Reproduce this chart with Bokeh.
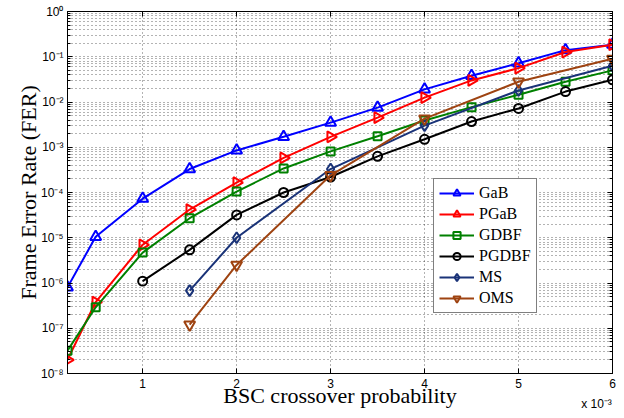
from bokeh.plotting import figure
from bokeh.models import (FixedTicker, LinearAxis, LogAxis, Legend, LegendItem,
                          CustomJSTickFormatter, Range1d, ColumnDataSource)
from bokeh.embed import file_html
from bokeh.resources import INLINE
import math

# BSC crossover probability (in units of 1e-3)
p_full = [0.2, 0.5, 1.0, 1.5, 2.0, 2.5, 3.0, 3.5, 4.0, 4.5, 5.0, 5.5, 6.0]
p_pgdbf = [1.0, 1.5, 2.0, 2.5, 3.0, 3.5, 4.0, 4.5, 5.0, 5.5, 6.0]
p_ms = [1.5, 2.0, 3.0, 4.0, 5.0, 6.0]

# Frame error rates
fer_gab = [8.0e-7, 1.05e-5, 7.3e-5, 3.3e-4, 8.5e-4, 1.7e-3, 3.5e-3, 7.5e-3, 1.9e-2, 3.8e-2, 7.2e-2, 1.4e-1, 1.85e-1]
fer_pgab = [2.0e-8, 3.8e-7, 7.0e-6, 4.2e-5, 1.65e-4, 5.8e-4, 1.7e-3, 4.5e-3, 1.25e-2, 3.0e-2, 5.6e-2, 1.27e-1, 1.85e-1]
fer_gdbf = [3.2e-8, 2.9e-7, 4.7e-6, 2.7e-5, 1.05e-4, 3.4e-4, 8.1e-4, 1.75e-3, 3.9e-3, 7.7e-3, 1.45e-2, 2.8e-2, 5.0e-2]
fer_pgdbf = [1.1e-6, 5.4e-6, 3.2e-5, 1.0e-4, 2.2e-4, 6.3e-4, 1.5e-3, 3.7e-3, 7.2e-3, 1.7e-2, 3.1e-2]
fer_ms = [6.8e-7, 1.0e-5, 3.3e-4, 3.0e-3, 1.8e-2, 6.3e-2]
fer_oms = [1.2e-7, 2.5e-6, 2.4e-4, 4.3e-3, 2.8e-2, 9.0e-2]

x_ticks = [1, 2, 3, 4, 5, 6]
y_major = [10.0 ** -k for k in range(0, 9)]
y_minor = [m * 10.0 ** -k for k in range(1, 9) for m in range(2, 10)]
x_scale_text = "x 10\u207b\u00b3"
x_scale_pos = 5.83

SANS = "Liberation Sans"
SERIF = "Liberation Serif"

p = figure(width=624, height=418, y_axis_type="log",
           x_range=Range1d(0.2, 6.0), y_range=Range1d(1e-8, 1.0),
           output_backend="svg", toolbar_location=None,
           min_border_left=67, min_border_right=12,
           min_border_top=11, min_border_bottom=45)
p.outline_line_color = "black"
p.background_fill_color = "white"
p.border_fill_color = "white"

sup_formatter = CustomJSTickFormatter(code="""
const sup = {"-": "\u207b", "0": "\u2070", "1": "\u00b9", "2": "\u00b2", "3": "\u00b3",
             "4": "\u2074", "5": "\u2075", "6": "\u2076", "7": "\u2077", "8": "\u2078", "9": "\u2079"};
const e = Math.round(Math.log10(tick));
return "10" + String(e).split("").map(c => sup[c]).join("");
""")
blank = CustomJSTickFormatter(code="return '';")

xt = FixedTicker(ticks=x_ticks)
yt = FixedTicker(ticks=y_major, minor_ticks=y_minor)

def style_axis(ax):
    ax.axis_line_color = "black"
    ax.major_tick_line_color = "black"
    ax.minor_tick_line_color = "black"
    ax.major_tick_in = 5
    ax.major_tick_out = 0
    ax.minor_tick_in = 3
    ax.minor_tick_out = 0
    ax.major_label_text_font = SANS
    ax.major_label_text_font_size = "12px"
    ax.major_label_text_color = "black"
    ax.axis_label_text_color = "black"

xa = p.xaxis[0]
xa.ticker = xt
style_axis(xa)
xa.minor_tick_line_color = None
xa.major_label_standoff = 5
xa.axis_label = "BSC crossover probability"
xa.axis_label_text_font = SERIF
xa.axis_label_text_font_size = "22px"
xa.axis_label_text_font_style = "normal"
xa.axis_label_standoff = -8

# second row under the x axis carrying the scale factor of the ticks
scale_axis = LinearAxis(ticker=FixedTicker(ticks=[x_scale_pos]),
                        formatter=CustomJSTickFormatter(code="return '%s';" % x_scale_text))
scale_axis.axis_line_color = None
scale_axis.major_tick_line_color = None
scale_axis.minor_tick_line_color = None
scale_axis.major_label_text_font = SANS
scale_axis.major_label_text_font_size = "12px"
scale_axis.major_label_text_color = "black"
scale_axis.major_label_standoff = -20
p.add_layout(scale_axis, "below")

ya = p.yaxis[0]
ya.ticker = yt
ya.formatter = sup_formatter
style_axis(ya)
ya.major_label_standoff = 4
ya.axis_label = "Frame Error Rate (FER)"
ya.axis_label_text_font = SERIF
ya.axis_label_text_font_size = "22px"
ya.axis_label_text_font_style = "normal"
ya.axis_label_standoff = -3

top = LinearAxis(ticker=xt, formatter=blank)
style_axis(top)
top.minor_tick_line_color = None
top.major_label_standoff = 0
p.add_layout(top, "above")

right = LogAxis(ticker=yt, formatter=blank)
style_axis(right)
right.major_label_standoff = 0
p.add_layout(right, "right")

# dotted grid
for g in (p.xgrid[0], p.ygrid[0]):
    g.grid_line_color = "#000000"
    g.grid_line_dash = "1 3"
    g.grid_line_width = 1
    g.grid_line_alpha = 0.6
p.ygrid[0].minor_grid_line_color = "#000000"
p.ygrid[0].minor_grid_line_dash = "1 3"
p.ygrid[0].minor_grid_line_alpha = 0.6

series = [
    ("GaB", p_full, fer_gab, "#0000ff", "triangle", 0.0, 11),
    ("PGaB", p_full, fer_pgab, "#ff0000", "triangle", -math.pi / 2, 11),
    ("GDBF", p_full, fer_gdbf, "#008000", "square", 0.0, 8),
    ("PGDBF", p_pgdbf, fer_pgdbf, "#000000", "circle", 0.0, 9),
    ("MS", p_ms, fer_ms, "#1a3378", "diamond", 0.0, 11),
    ("OMS", p_ms, fer_oms, "#9e4311", "inverted_triangle", 0.0, 11),
]

items = []
for name, xs, ys, color, marker, ang, size in series:
    src = ColumnDataSource(dict(x=xs, y=ys, a=[ang] * len(xs)))
    ln = p.line("x", "y", source=src, line_color=color, line_width=2)
    sc = p.scatter("x", "y", source=src, marker=marker, size=size, angle="a",
                   line_color=color, line_width=2, fill_alpha=0)
    items.append(LegendItem(label=name, renderers=[ln, sc], index=0))

legend = Legend(items=items, location=(366, 60))
legend.label_text_font = SERIF
legend.label_text_font_size = "16px"
legend.label_text_color = "black"
legend.glyph_width = 35
legend.glyph_height = 18
legend.label_height = 18
legend.label_standoff = 5
legend.spacing = 3
legend.padding = 5
legend.margin = 0
legend.border_line_color = "black"
legend.border_line_width = 1
legend.background_fill_color = "white"
legend.background_fill_alpha = 1
p.add_layout(legend)

open("out.html", "w").write(file_html(p, INLINE))
